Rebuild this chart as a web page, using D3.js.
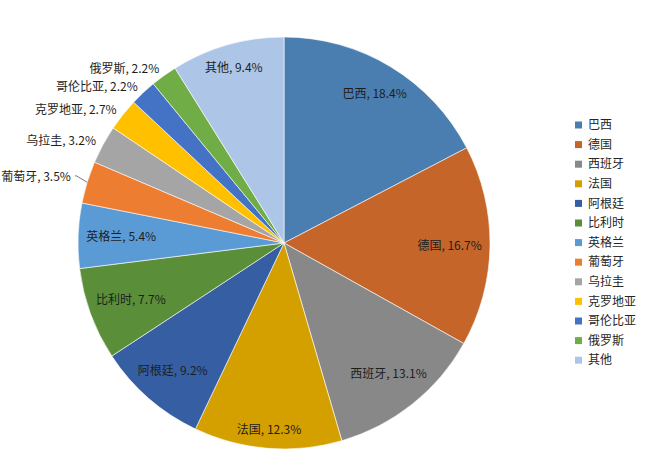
<!DOCTYPE html>
<html>
<head>
<meta charset="utf-8">
<script src="https://cdn.jsdelivr.net/npm/d3@7"></script>
<style>
  html, body { margin: 0; padding: 0; background: #fff; }
  svg text { font-family: "Noto Sans CJK SC", "Noto Sans", sans-serif; }
</style>
</head>
<body>
<svg id="chart"></svg>
<script>
// Data
const countries = ["巴西", "德国", "西班牙", "法国", "阿根廷", "比利时", "英格兰", "葡萄牙", "乌拉圭", "克罗地亚", "哥伦比亚", "俄罗斯", "其他"];
const shares = [18.4, 16.7, 13.1, 12.3, 9.2, 7.7, 5.4, 3.5, 3.2, 2.7, 2.2, 2.2, 9.4];
const colors = ["#4a7eb0", "#c5652a", "#888888", "#d4a000", "#365ea2", "#5b8e39", "#5b9bd5", "#ed7d31", "#a5a5a5", "#ffc000", "#4472c4", "#70ad47", "#adc6e7"];
// small slices get their label outside; one of them is pushed out with a leader line
const outsideLabels = ["葡萄牙", "乌拉圭", "克罗地亚", "哥伦比亚", "俄罗斯"];
const leaderLabels = ["葡萄牙"];

// Layout
const W = 650, H = 472;
const CX = 284, CY = 243, R = 206;
const FONT = 12;

const svg = d3.select("#chart").attr("width", W).attr("height", H);
svg.append("rect").attr("width", W).attr("height", H).attr("fill", "#fff");

const data = countries.map((c, i) => ({ name: c, value: shares[i], color: colors[i] }));
const arcs = d3.pie().sort(null).value(d => d.value)(data);
const arc = d3.arc().innerRadius(0).outerRadius(R);

const g = svg.append("g").attr("transform", `translate(${CX},${CY})`);

g.selectAll("path.slice")
  .data(arcs).enter().append("path")
  .attr("class", "slice")
  .attr("d", arc)
  .attr("fill", d => d.data.color)
  .attr("stroke", "#fff")
  .attr("stroke-width", 0.6);

// Labels
const polar = (a, r) => [Math.sin(a) * r, -Math.cos(a) * r];

arcs.forEach(d => {
  const mid = (d.startAngle + d.endAngle) / 2;
  const label = `${d.data.name}, ${d.data.value}%`;
  const t = g.append("text")
    .attr("font-size", FONT)
    .attr("fill", "#1e1e1e")
    .attr("dy", "0.35em")
    .text(label);

  if (outsideLabels.includes(d.data.name)) {
    const leader = leaderLabels.includes(d.data.name);
    const [x, y] = polar(mid, R + (leader ? 17 : 8));
    t.attr("x", x).attr("y", y).attr("text-anchor", Math.sin(mid) < 0 ? "end" : "start");
    if (leader) {
      const e = polar(mid, R);
      const k = polar(mid, R + 8);
      g.append("polyline")
        .attr("points", [e, [k[0] - 3, k[1] - 4], [x + 4, k[1] - 4]].map(p => p.join(",")).join(" "))
        .attr("fill", "none").attr("stroke", "#595959").attr("stroke-width", 0.8);
    }
  } else {
    // inside end: push the label box out until its outer corner meets R - pad
    const w = t.node().getComputedTextLength(), h = FONT;
    const ux = Math.sin(mid), uy = -Math.cos(mid);
    const cx = Math.sign(ux) * w / 2, cy = Math.sign(uy) * h / 2;
    const uc = ux * cx + uy * cy;
    const target = R - 8;
    const dist = -uc + Math.sqrt(uc * uc - (cx * cx + cy * cy) + target * target);
    t.attr("x", ux * dist).attr("y", uy * dist).attr("text-anchor", "middle");
  }
});

// Legend
const legend = svg.append("g").attr("transform", "translate(575,125)");
const rowH = 19.6;
data.forEach((d, i) => {
  const row = legend.append("g").attr("transform", `translate(0,${i * rowH})`);
  row.append("rect").attr("x", 0).attr("y", -3.5).attr("width", 7).attr("height", 7).attr("fill", d.color);
  row.append("text").attr("x", 13).attr("dy", "0.35em").attr("font-size", FONT).attr("fill", "#262626").text(d.name);
});
</script>
</body>
</html>
